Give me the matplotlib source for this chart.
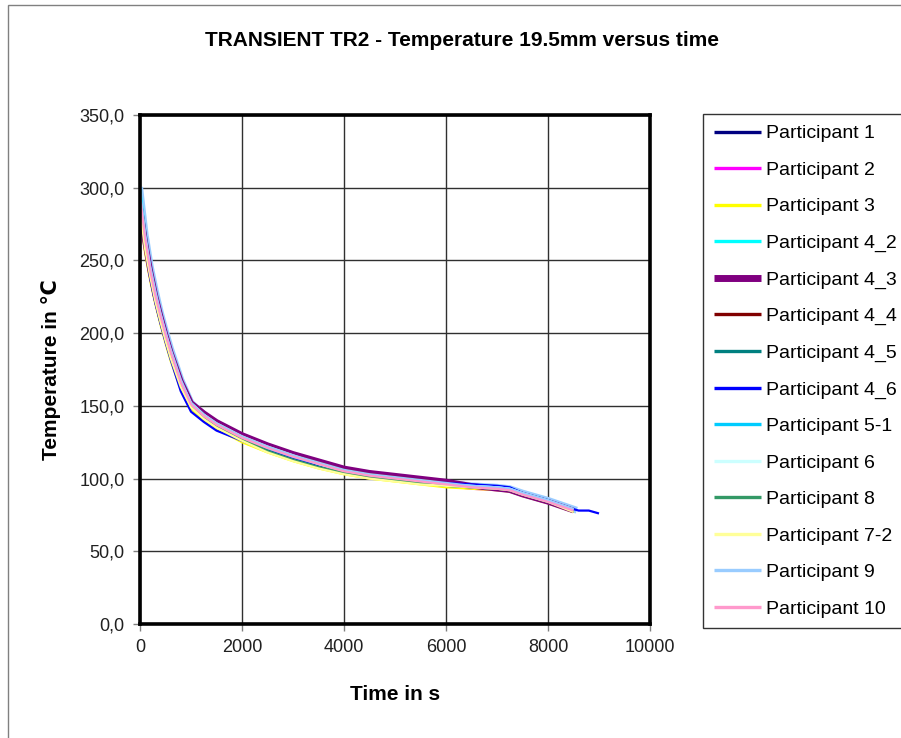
import matplotlib
matplotlib.use("Agg")
import matplotlib.pyplot as plt
from matplotlib.patches import Rectangle
from matplotlib.ticker import FuncFormatter

plt.rcParams['font.family'] = ['Liberation Sans', 'DejaVu Sans']

# common time grid (s)
time = [0, 100, 200, 300, 400, 500, 600, 800, 1000, 1250, 1500, 2000, 2500, 3000,
        3500, 4000, 4500, 5000, 5500, 6000, 6500, 7000, 7250, 7500, 8000, 8500]
time_p46 = time + [8600, 8800, 9000]

# temperatures (deg C)
p1 = [290, 262, 240, 223, 209, 196, 184, 163, 149, 141, 135, 126, 119, 113, 108, 104, 101, 99, 97, 95, 94, 93, 92, 89, 84, 77]
p2 = [293, 264, 242, 225, 211, 198, 186, 165, 150, 142, 136, 127, 120, 114, 109, 104, 101, 99, 97, 95, 93, 92, 92, 89, 84, 78]
p3 = [280, 255, 236, 220, 206, 193, 181, 161, 148, 140, 134, 125, 118, 112, 107, 103, 100, 98, 96, 94, 93, 92, 91, 88, 83, 77]
p4_2 = [300, 270, 247, 229, 214, 201, 189, 168, 153, 144, 138, 129, 122, 116, 111, 106, 102, 100, 98, 96, 95, 94, 93, 90, 85, 79]
p4_3 = [287, 263, 243, 226, 212, 199, 187, 167, 152, 145, 139, 130, 123, 117, 112, 107, 104, 102, 100, 98, 95, 93, 92, 89, 84, 78]
p4_4 = [290, 264, 243, 226, 212, 199, 187, 166, 151, 144, 138, 129, 122, 116, 111, 106, 103, 101, 99, 97, 95, 93, 92, 89, 84, 78]
p4_5 = [292, 263, 242, 225, 211, 198, 186, 165, 150, 142, 136, 127, 120, 113, 108, 104, 101, 99, 97, 95, 94, 93, 92, 89, 84, 78]
p4_6 = [288, 260, 238, 221, 207, 194, 182, 160, 146, 139, 133, 126, 119, 114, 109, 105, 102, 100, 98, 97, 96, 95, 94, 90, 85, 79, 78, 78, 76]
p5_1 = [297, 267, 245, 228, 213, 200, 188, 167, 152, 144, 137, 128, 121, 115, 110, 105, 102, 100, 98, 96, 95, 94, 93, 90, 85, 78]
p6 = [296, 266, 244, 227, 213, 200, 188, 167, 152, 144, 138, 129, 122, 116, 110, 105, 102, 100, 98, 96, 95, 94, 93, 90, 85, 79]
p8 = [291, 262, 241, 224, 210, 197, 185, 164, 150, 142, 136, 127, 119, 113, 108, 104, 101, 99, 97, 95, 94, 93, 92, 89, 84, 78]
p7_2 = [285, 258, 239, 222, 208, 195, 183, 163, 149, 141, 135, 126, 118, 112, 107, 103, 100, 98, 96, 95, 94, 93, 92, 89, 84, 77]
p9 = [298, 268, 246, 229, 214, 201, 189, 168, 152, 144, 138, 129, 122, 116, 111, 106, 103, 101, 99, 97, 95, 94, 93, 90, 85, 79]
p10 = [294, 265, 243, 226, 212, 199, 187, 166, 151, 143, 137, 128, 121, 115, 110, 105, 102, 100, 98, 96, 94, 93, 92, 89, 84, 78]

series = [
    ("Participant 1", time, p1, "#000080", 1.6),
    ("Participant 2", time, p2, "#FF00FF", 1.6),
    ("Participant 3", time, p3, "#FFFF00", 1.6),
    ("Participant 4_2", time, p4_2, "#00FFFF", 1.6),
    ("Participant 4_3", time, p4_3, "#800080", 4.0),
    ("Participant 4_4", time, p4_4, "#800000", 1.6),
    ("Participant 4_5", time, p4_5, "#008080", 1.6),
    ("Participant 4_6", time_p46, p4_6, "#0000FF", 1.6),
    ("Participant 5-1", time, p5_1, "#00CCFF", 1.6),
    ("Participant 6", time, p6, "#CCFFFF", 1.6),
    ("Participant 8", time, p8, "#339966", 1.6),
    ("Participant 7-2", time, p7_2, "#FFFF99", 1.6),
    ("Participant 9", time, p9, "#99CCFF", 1.6),
    ("Participant 10", time, p10, "#FF99CC", 1.6),
]

fig = plt.figure(figsize=(9.01, 7.38), dpi=100)
ax = fig.add_axes([140 / 901, 114 / 738, 510 / 901, 509 / 738])

lines = []
for name, t, temp, col, lw in series:
    ln, = ax.plot(t, temp, color=col, lw=lw, label=name, solid_capstyle='butt')
    lines.append(ln)
# the wide light-blue band seen in the plot
ax.plot(time, p9, color="#99CCFF", lw=5, zorder=1.9)

ax.set_xlim(0, 10000)
ax.set_ylim(0, 350)
ax.set_xticks(range(0, 10001, 2000))
ax.set_yticks(range(0, 351, 50))
ax.yaxis.set_major_formatter(FuncFormatter(lambda v, p: f"{v:.1f}".replace(".", ",")))
ax.grid(True, color="#303030", lw=1)
ax.set_axisbelow(True)
for s in ax.spines.values():
    s.set_linewidth(2.6)
    s.set_color("black")
ax.tick_params(direction='out', length=5, width=1, color="#808080",
               labelsize=13, labelcolor="#202020", pad=6)

ax.set_xlabel("Time in s", fontsize=15, fontweight='bold', labelpad=21)
ax.set_ylabel("Temperature in ℃", fontsize=15, fontweight='bold', labelpad=13)

fig.text(462 / 901, 1 - 40 / 738, "TRANSIENT TR2 - Temperature 19.5mm versus time",
         ha='center', va='center', fontsize=15, fontweight='bold')

leg = fig.legend(handles=lines, loc='upper left',
                 bbox_to_anchor=(703 / 901, 0, 0.25, 1 - 114 / 738), mode='expand',
                 fontsize=14, frameon=True, fancybox=False, borderaxespad=0,
                 handlelength=2.4, handletextpad=0.3, labelspacing=0.97,
                 borderpad=0.56)
leg.get_frame().set_edgecolor("black")
leg.get_frame().set_linewidth(1)
for h in leg.get_lines():
    if h.get_label() != "Participant 4_3":
        h.set_linewidth(2.4)
    else:
        h.set_linewidth(5)

# outer chart-area border (cropped on right and bottom)
fig.patches.append(Rectangle((8 / 901, -0.1), 1.2, 1.1 - 5 / 738, fill=False,
                             edgecolor="#808080", lw=1, transform=fig.transFigure))

fig.savefig("out.png", dpi=100)
